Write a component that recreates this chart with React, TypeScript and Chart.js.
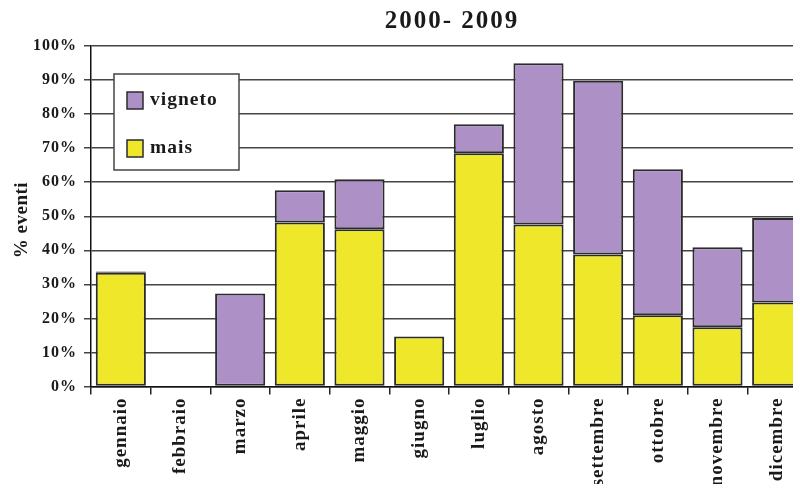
import React, { useEffect, useRef } from "react";
import { Chart, registerables } from "chart.js";

Chart.register(...registerables);

const months = ["gennaio", "febbraio", "marzo", "aprile", "maggio", "giugno", "luglio", "agosto", "settembre", "ottobre", "novembre", "dicembre"];
const mais = [33.4, null, null, 48.2, 46.2, 14.7, 68.5, 47.6, 38.8, 20.9, 17.4, 24.7];
const vigneto = [0.4, null, 27.3, 9.4, 14.7, null, 8.5, 47.3, 51.0, 42.9, 23.5, 24.8];
const yTicks = [0, 10, 20, 30, 40, 50, 60, 70, 80, 90, 100];
const titleText = "2000- 2009";
const yTitle = "% eventi";

const PURPLE = "#ad91c6";
const YELLOW = "#eee72a";
const BORDER = "#2b2b2b";
const FONT = "'Liberation Serif', 'DejaVu Serif', serif";

const overlay = {
  id: "overlay",
  beforeDraw(chart: any) {
    const ctx = chart.ctx;
    ctx.save();
    ctx.fillStyle = "#fff";
    ctx.fillRect(0, 0, chart.width, chart.height);
    ctx.restore();
    (ctx as any).letterSpacing = "1px";
  },
  afterDraw(chart: any) {
    const ctx = chart.ctx;
    ctx.save();
    // title
    (ctx as any).letterSpacing = "2px";
    ctx.fillStyle = "#1a1a1a";
    ctx.font = `bold 25px ${FONT}`;
    ctx.textAlign = "center";
    ctx.textBaseline = "middle";
    ctx.fillText(titleText, 452, 22);
    // y title
    (ctx as any).letterSpacing = "0.5px";
    ctx.translate(22, 220);
    ctx.rotate(-Math.PI / 2);
    ctx.font = `bold 19px ${FONT}`;
    ctx.fillText(yTitle, 0, 0);
    ctx.restore();

    // legend
    ctx.save();
    (ctx as any).letterSpacing = "1px";
    ctx.fillStyle = "#fff";
    ctx.fillRect(114, 74, 125, 96);
    ctx.strokeStyle = "#444";
    ctx.lineWidth = 1.5;
    ctx.strokeRect(114, 74, 125, 96);
    const items = [
      { label: "vigneto", color: PURPLE, y: 92 },
      { label: "mais", color: YELLOW, y: 140 },
    ];
    ctx.font = `bold 19.5px ${FONT}`;
    ctx.textAlign = "left";
    ctx.textBaseline = "middle";
    for (const it of items) {
      ctx.fillStyle = it.color;
      ctx.fillRect(127, it.y, 16, 17);
      ctx.strokeStyle = BORDER;
      ctx.lineWidth = 1.5;
      ctx.strokeRect(127, it.y, 16, 17);
      ctx.fillStyle = "#1a1a1a";
      ctx.fillText(it.label, 150, it.y + 8);
    }
    ctx.restore();
  },
};

export default function App() {
  const ref = useRef<HTMLCanvasElement>(null);
  useEffect(() => {
    if (!ref.current) return;
    const chart = new Chart(ref.current, {
      type: "bar",
      data: {
        labels: months,
        datasets: [
          {
            label: "mais",
            data: mais as any,
            backgroundColor: YELLOW,
            borderColor: BORDER,
            borderWidth: 2,
            borderSkipped: false,
          },
          {
            label: "vigneto",
            data: vigneto as any,
            backgroundColor: PURPLE,
            borderColor: BORDER,
            borderWidth: 2,
            borderSkipped: false,
          },
        ],
      },
      options: {
        responsive: false,
        animation: false,
        devicePixelRatio: 1,
        layout: { padding: { top: 46, right: 5, left: 0, bottom: 0 } },
        datasets: { bar: { categoryPercentage: 1, barPercentage: 0.84 } },
        plugins: {
          legend: { display: false },
          title: { display: false },
          tooltip: { enabled: false },
        },
        scales: {
          x: {
            stacked: true,
            afterFit: (s: any) => { s.height = 97.5; },
            grid: { drawOnChartArea: false, offset: true, tickLength: 8, color: "#222", lineWidth: 1.5 },
            border: { display: true, color: "#111", width: 1.5 },
            ticks: {
              minRotation: 90,
              maxRotation: 90,
              autoSkip: false,
              color: "#1a1a1a",
              padding: 3,
              font: { family: FONT, size: 19, weight: "bold" },
            },
          },
          y: {
            stacked: true,
            min: 0,
            max: 100,
            afterFit: (s: any) => { s.width = 91; },
            afterBuildTicks: (s: any) => { s.ticks = yTicks.map((v) => ({ value: v })); },
            grid: { color: "#444", lineWidth: 1.5, tickLength: 7 },
            border: { display: true, color: "#111", width: 1.5 },
            ticks: {
              color: "#1a1a1a",
              padding: 7,
              font: { family: FONT, size: 16, weight: "bold" },
              callback: (v: any) => `${v}%`,
            },
          },
        },
      },
      plugins: [overlay],
    });
    return () => chart.destroy();
  }, []);
  return (
    <div style={{ position: "fixed", left: 0, top: 0, width: 793, height: 484, overflow: "hidden", background: "#fff" }}>
      <canvas ref={ref} width={812} height={484} style={{ display: "block" }} />
    </div>
  );
}
